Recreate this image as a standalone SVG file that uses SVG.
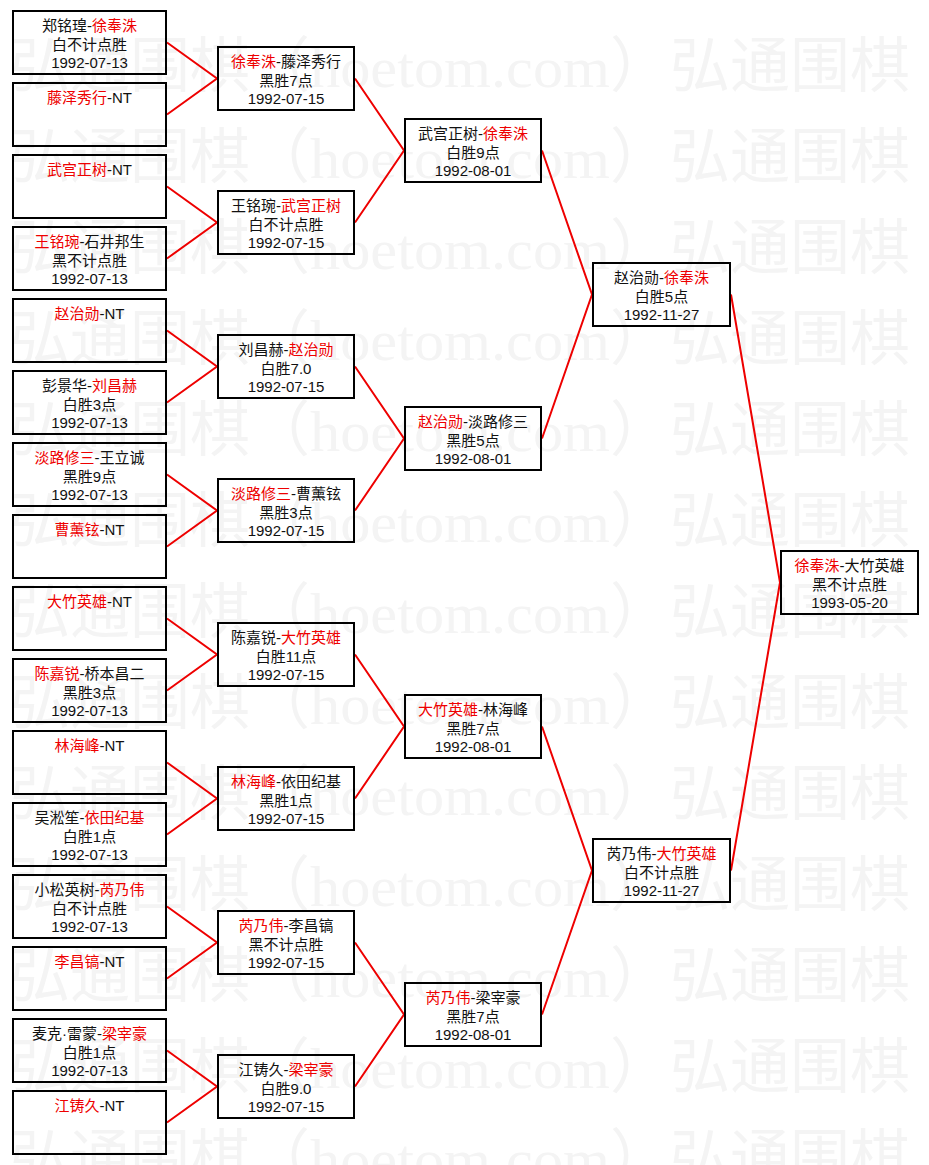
<svg xmlns="http://www.w3.org/2000/svg" xmlns:xlink="http://www.w3.org/1999/xlink" width="929" height="1165" viewBox="0 0 929 1165">
<style>
.wm{font-family:"Noto Sans CJK SC","Noto Sans CJK JP",sans-serif;font-size:60px;fill:#f4f4f4}
.wml{font-family:"Liberation Serif",serif;font-size:56px;fill:#f4f4f4}
.t{font-family:"Liberation Sans","Noto Sans CJK SC","Noto Sans CJK JP",sans-serif;font-size:15px;fill:#111;text-anchor:middle}
.r{fill:#e00}
.box{fill:none;stroke:#000;stroke-width:2}
.ln{fill:none;stroke:#e00;stroke-width:2}
</style>
<defs>
<g id="wmrow">
<text class="wm" x="10" y="0">弘通围棋（</text>
<text class="wml" x="310" y="0" textLength="300" lengthAdjust="spacingAndGlyphs">hoetom.com</text>
<text class="wm" x="610" y="0">）弘通围棋</text>
</g>
</defs>
<rect x="0" y="0" width="929" height="1165" fill="#fff"/>
<g id="watermark">
<use xlink:href="#wmrow" y="87"/>
<use xlink:href="#wmrow" y="178"/>
<use xlink:href="#wmrow" y="269"/>
<use xlink:href="#wmrow" y="360"/>
<use xlink:href="#wmrow" y="451"/>
<use xlink:href="#wmrow" y="542"/>
<use xlink:href="#wmrow" y="633"/>
<use xlink:href="#wmrow" y="724"/>
<use xlink:href="#wmrow" y="815"/>
<use xlink:href="#wmrow" y="906"/>
<use xlink:href="#wmrow" y="997"/>
<use xlink:href="#wmrow" y="1088"/>
<use xlink:href="#wmrow" y="1179"/>
</g>
<g id="connectors">
<polyline class="ln" points="167,42.5 217,78.5 167,114.5"/>
<polyline class="ln" points="167,186.5 217,222.5 167,258.5"/>
<polyline class="ln" points="167,330.5 217,366.5 167,402.5"/>
<polyline class="ln" points="167,474.5 217,510.5 167,546.5"/>
<polyline class="ln" points="167,618.5 217,654.5 167,690.5"/>
<polyline class="ln" points="167,762.5 217,798.5 167,834.5"/>
<polyline class="ln" points="167,906.5 217,942.5 167,978.5"/>
<polyline class="ln" points="167,1050.5 217,1086.5 167,1122.5"/>
<polyline class="ln" points="355,78.5 404,150.5 355,222.5"/>
<polyline class="ln" points="355,366.5 404,438.5 355,510.5"/>
<polyline class="ln" points="355,654.5 404,726.5 355,798.5"/>
<polyline class="ln" points="355,942.5 404,1014.5 355,1086.5"/>
<polyline class="ln" points="542,150.5 592,294.5 542,438.5"/>
<polyline class="ln" points="542,726.5 592,870.5 542,1014.5"/>
<polyline class="ln" points="731,294.5 780,582.5 731,870.5"/>
</g>
<g id="leaf0"><rect class="box" x="13" y="11" width="153" height="63"/>
<text class="t" x="89.5" y="30.5">郑铭瑝-<tspan class="r">徐奉洙</tspan></text>
<text class="t" x="89.5" y="49.5">白不计点胜</text>
<text class="t" x="89.5" y="68">1992-07-13</text></g>
<g id="leaf1"><rect class="box" x="13" y="83" width="153" height="63"/>
<text class="t" x="89.5" y="102.5"><tspan class="r">藤泽秀行</tspan>-NT</text></g>
<g id="leaf2"><rect class="box" x="13" y="155" width="153" height="63"/>
<text class="t" x="89.5" y="174.5"><tspan class="r">武宫正树</tspan>-NT</text></g>
<g id="leaf3"><rect class="box" x="13" y="227" width="153" height="63"/>
<text class="t" x="89.5" y="246.5"><tspan class="r">王铭琬</tspan>-石井邦生</text>
<text class="t" x="89.5" y="265.5">黑不计点胜</text>
<text class="t" x="89.5" y="284">1992-07-13</text></g>
<g id="leaf4"><rect class="box" x="13" y="299" width="153" height="63"/>
<text class="t" x="89.5" y="318.5"><tspan class="r">赵治勋</tspan>-NT</text></g>
<g id="leaf5"><rect class="box" x="13" y="371" width="153" height="63"/>
<text class="t" x="89.5" y="390.5">彭景华-<tspan class="r">刘昌赫</tspan></text>
<text class="t" x="89.5" y="409.5">白胜3点</text>
<text class="t" x="89.5" y="428">1992-07-13</text></g>
<g id="leaf6"><rect class="box" x="13" y="443" width="153" height="63"/>
<text class="t" x="89.5" y="462.5"><tspan class="r">淡路修三</tspan>-王立诚</text>
<text class="t" x="89.5" y="481.5">黑胜9点</text>
<text class="t" x="89.5" y="500">1992-07-13</text></g>
<g id="leaf7"><rect class="box" x="13" y="515" width="153" height="63"/>
<text class="t" x="89.5" y="534.5"><tspan class="r">曹薰铉</tspan>-NT</text></g>
<g id="leaf8"><rect class="box" x="13" y="587" width="153" height="63"/>
<text class="t" x="89.5" y="606.5"><tspan class="r">大竹英雄</tspan>-NT</text></g>
<g id="leaf9"><rect class="box" x="13" y="659" width="153" height="63"/>
<text class="t" x="89.5" y="678.5"><tspan class="r">陈嘉锐</tspan>-桥本昌二</text>
<text class="t" x="89.5" y="697.5">黑胜3点</text>
<text class="t" x="89.5" y="716">1992-07-13</text></g>
<g id="leaf10"><rect class="box" x="13" y="731" width="153" height="63"/>
<text class="t" x="89.5" y="750.5"><tspan class="r">林海峰</tspan>-NT</text></g>
<g id="leaf11"><rect class="box" x="13" y="803" width="153" height="63"/>
<text class="t" x="89.5" y="822.5">吴淞笙-<tspan class="r">依田纪基</tspan></text>
<text class="t" x="89.5" y="841.5">白胜1点</text>
<text class="t" x="89.5" y="860">1992-07-13</text></g>
<g id="leaf12"><rect class="box" x="13" y="875" width="153" height="63"/>
<text class="t" x="89.5" y="894.5">小松英树-<tspan class="r">芮乃伟</tspan></text>
<text class="t" x="89.5" y="913.5">白不计点胜</text>
<text class="t" x="89.5" y="932">1992-07-13</text></g>
<g id="leaf13"><rect class="box" x="13" y="947" width="153" height="63"/>
<text class="t" x="89.5" y="966.5"><tspan class="r">李昌镐</tspan>-NT</text></g>
<g id="leaf14"><rect class="box" x="13" y="1019" width="153" height="63"/>
<text class="t" x="89.5" y="1038.5">麦克·雷蒙-<tspan class="r">梁宰豪</tspan></text>
<text class="t" x="89.5" y="1057.5">白胜1点</text>
<text class="t" x="89.5" y="1076">1992-07-13</text></g>
<g id="leaf15"><rect class="box" x="13" y="1091" width="153" height="63"/>
<text class="t" x="89.5" y="1110.5"><tspan class="r">江铸久</tspan>-NT</text></g>
<g id="r2_0"><rect class="box" x="218" y="47" width="136" height="63"/>
<text class="t" x="286" y="66.5"><tspan class="r">徐奉洙</tspan>-藤泽秀行</text>
<text class="t" x="286" y="85.5">黑胜7点</text>
<text class="t" x="286" y="104">1992-07-15</text></g>
<g id="r2_1"><rect class="box" x="218" y="191" width="136" height="63"/>
<text class="t" x="286" y="210.5">王铭琬-<tspan class="r">武宫正树</tspan></text>
<text class="t" x="286" y="229.5">白不计点胜</text>
<text class="t" x="286" y="248">1992-07-15</text></g>
<g id="r2_2"><rect class="box" x="218" y="335" width="136" height="63"/>
<text class="t" x="286" y="354.5">刘昌赫-<tspan class="r">赵治勋</tspan></text>
<text class="t" x="286" y="373.5">白胜7.0</text>
<text class="t" x="286" y="392">1992-07-15</text></g>
<g id="r2_3"><rect class="box" x="218" y="479" width="136" height="63"/>
<text class="t" x="286" y="498.5"><tspan class="r">淡路修三</tspan>-曹薰铉</text>
<text class="t" x="286" y="517.5">黑胜3点</text>
<text class="t" x="286" y="536">1992-07-15</text></g>
<g id="r2_4"><rect class="box" x="218" y="623" width="136" height="63"/>
<text class="t" x="286" y="642.5">陈嘉锐-<tspan class="r">大竹英雄</tspan></text>
<text class="t" x="286" y="661.5">白胜11点</text>
<text class="t" x="286" y="680">1992-07-15</text></g>
<g id="r2_5"><rect class="box" x="218" y="767" width="136" height="63"/>
<text class="t" x="286" y="786.5"><tspan class="r">林海峰</tspan>-依田纪基</text>
<text class="t" x="286" y="805.5">黑胜1点</text>
<text class="t" x="286" y="824">1992-07-15</text></g>
<g id="r2_6"><rect class="box" x="218" y="911" width="136" height="63"/>
<text class="t" x="286" y="930.5"><tspan class="r">芮乃伟</tspan>-李昌镐</text>
<text class="t" x="286" y="949.5">黑不计点胜</text>
<text class="t" x="286" y="968">1992-07-15</text></g>
<g id="r2_7"><rect class="box" x="218" y="1055" width="136" height="63"/>
<text class="t" x="286" y="1074.5">江铸久-<tspan class="r">梁宰豪</tspan></text>
<text class="t" x="286" y="1093.5">白胜9.0</text>
<text class="t" x="286" y="1112">1992-07-15</text></g>
<g id="r3_0"><rect class="box" x="405" y="119" width="136" height="63"/>
<text class="t" x="473" y="138.5">武宫正树-<tspan class="r">徐奉洙</tspan></text>
<text class="t" x="473" y="157.5">白胜9点</text>
<text class="t" x="473" y="176">1992-08-01</text></g>
<g id="r3_1"><rect class="box" x="405" y="407" width="136" height="63"/>
<text class="t" x="473" y="426.5"><tspan class="r">赵治勋</tspan>-淡路修三</text>
<text class="t" x="473" y="445.5">黑胜5点</text>
<text class="t" x="473" y="464">1992-08-01</text></g>
<g id="r3_2"><rect class="box" x="405" y="695" width="136" height="63"/>
<text class="t" x="473" y="714.5"><tspan class="r">大竹英雄</tspan>-林海峰</text>
<text class="t" x="473" y="733.5">黑胜7点</text>
<text class="t" x="473" y="752">1992-08-01</text></g>
<g id="r3_3"><rect class="box" x="405" y="983" width="136" height="63"/>
<text class="t" x="473" y="1002.5"><tspan class="r">芮乃伟</tspan>-梁宰豪</text>
<text class="t" x="473" y="1021.5">黑胜7点</text>
<text class="t" x="473" y="1040">1992-08-01</text></g>
<g id="r4_0"><rect class="box" x="593" y="263" width="137" height="63"/>
<text class="t" x="661.5" y="282.5">赵治勋-<tspan class="r">徐奉洙</tspan></text>
<text class="t" x="661.5" y="301.5">白胜5点</text>
<text class="t" x="661.5" y="320">1992-11-27</text></g>
<g id="r4_1"><rect class="box" x="593" y="839" width="137" height="63"/>
<text class="t" x="661.5" y="858.5">芮乃伟-<tspan class="r">大竹英雄</tspan></text>
<text class="t" x="661.5" y="877.5">白不计点胜</text>
<text class="t" x="661.5" y="896">1992-11-27</text></g>
<g id="final"><rect class="box" x="781" y="551" width="137" height="63"/>
<text class="t" x="849.5" y="570.5"><tspan class="r">徐奉洙</tspan>-大竹英雄</text>
<text class="t" x="849.5" y="589.5">黑不计点胜</text>
<text class="t" x="849.5" y="608">1993-05-20</text></g>
</svg>
